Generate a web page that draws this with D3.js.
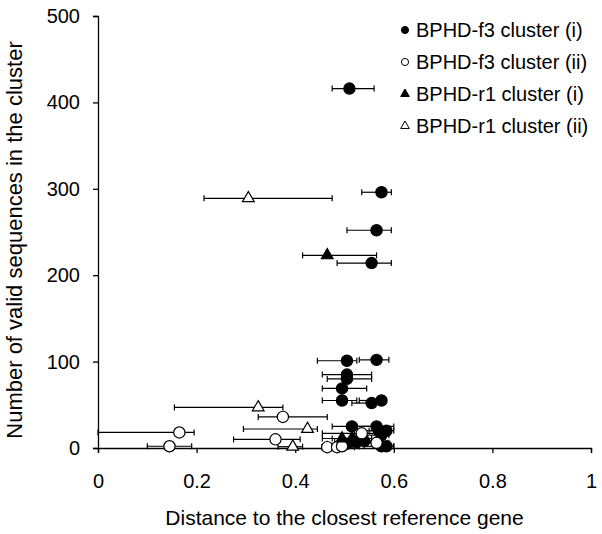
<!DOCTYPE html>
<html>
<head>
<meta charset="utf-8">
<script src="https://cdn.jsdelivr.net/npm/d3@7"></script>
<style>
  body { margin: 0; background: #fff; }
  svg { font-family: "Liberation Sans", Arial, sans-serif; }
</style>
</head>
<body>
<div id="chart"></div>
<script>
// [distance, count, error low, error high]
const f3ClusterI = [
    [0.51, 416, 0.475, 0.56], [0.575, 296, 0.535, 0.595], [0.565, 252, 0.505, 0.595],
    [0.555, 214, 0.485, 0.595], [0.505, 101, 0.445, 0.525], [0.565, 102, 0.53, 0.59],
    [0.505, 85, 0.455, 0.555], [0.505, 80, 0.465, 0.555], [0.495, 69, 0.455, 0.545],
    [0.495, 55, 0.455, 0.525], [0.555, 52, 0.515, 0.575], [0.575, 55, 0.53, 0.58],
    [0.515, 25, 0.475, 0.56], [0.565, 25, 0.525, 0.6], [0.57, 20, 0.53, 0.59],
    [0.585, 20, 0.55, 0.6], [0.575, 15, 0.52, 0.59], [0.525, 7, 0.48, 0.56],
    [0.505, 5, 0.465, 0.54], [0.585, 2, 0.56, 0.6], [0.575, 2, 0.54, 0.6],
    [0.54, 8, 0.5, 0.57]
];
const f3ClusterII = [
    [0.375, 36, 0.325, 0.465], [0.165, 18, 0, 0.195], [0.145, 2, 0.1, 0.19],
    [0.36, 10, 0.275, 0.41], [0.535, 17, 0.455, 0.58], [0.565, 6, 0.52, 0.59],
    [0.465, 1, 0.455, 0.5], [0.485, 1, 0.455, 0.52], [0.495, 2, 0.46, 0.53]
];
const r1ClusterI = [
    [0.465, 223, 0.415, 0.565], [0.495, 11, 0.455, 0.54], [0.515, 11, 0.475, 0.555]
];
const r1ClusterII = [
    [0.305, 289, 0.215, 0.475], [0.325, 47, 0.155, 0.375],
    [0.425, 22, 0.295, 0.445], [0.395, 1.5, 0.365, 0.415]
];
const xTicks = [0, 0.2, 0.4, 0.6, 0.8, 1];
const yTicks = [0, 100, 200, 300, 400, 500];

const series = [
    {name: "BPHD-f3 cluster (i)", data: f3ClusterI, shape: d3.symbolCircle, fill: "#000"},
    {name: "BPHD-f3 cluster (ii)", data: f3ClusterII, shape: d3.symbolCircle, fill: "#fff"},
    {name: "BPHD-r1 cluster (i)", data: r1ClusterI, shape: d3.symbolTriangle, fill: "#000"},
    {name: "BPHD-r1 cluster (ii)", data: r1ClusterII, shape: d3.symbolTriangle, fill: "#fff"}
];

const width = 602, height = 534;
const margin = {top: 16, right: 11, bottom: 86, left: 98};

const svg = d3.select("#chart").append("svg")
    .attr("width", width)
    .attr("height", height);

const x = d3.scaleLinear().domain([0, 1]).range([margin.left, width - margin.right]);
const y = d3.scaleLinear().domain([0, 500]).range([height - margin.bottom, margin.top]);

// axes
const xAxis = svg.append("g")
    .attr("transform", `translate(0,${y(0)})`)
    .call(d3.axisBottom(x).tickValues(xTicks).tickFormat(d3.format("~g")).tickSize(5).tickPadding(21));
const yAxis = svg.append("g")
    .attr("transform", `translate(${x(0)},0)`)
    .call(d3.axisLeft(y).tickValues(yTicks).tickSize(5).tickPadding(13));

[xAxis, yAxis].forEach(g => {
    g.select(".domain").attr("stroke", "#000").attr("stroke-width", 1.3);
    g.selectAll(".tick line").attr("stroke", "#000").attr("stroke-width", 1.3);
    g.selectAll(".tick text").attr("fill", "#000").style("font-size", "20px");
});

// error bars, then markers
const cap = 3;
series.forEach(s => {
    const g = svg.append("g");
    g.selectAll("line.err")
        .data(s.data)
        .enter()
        .append("line")
        .attr("x1", d => x(d[2]))
        .attr("x2", d => x(d[3]))
        .attr("y1", d => y(d[1]))
        .attr("y2", d => y(d[1]))
        .attr("stroke", "#000")
        .attr("stroke-width", 1.2);
    [2, 3].forEach(k => {
        g.selectAll("line.cap" + k)
            .data(s.data)
            .enter()
            .append("line")
            .attr("x1", d => x(d[k]))
            .attr("x2", d => x(d[k]))
            .attr("y1", d => y(d[1]) - cap)
            .attr("y2", d => y(d[1]) + cap)
            .attr("stroke", "#000")
            .attr("stroke-width", 1.2);
    });
});

series.forEach(s => {
    const sym = d3.symbol().type(s.shape).size(s.shape === d3.symbolCircle ? 100 : 60);
    svg.append("g").selectAll("path")
        .data(s.data)
        .enter()
        .append("path")
        .attr("d", sym)
        .attr("transform", d => `translate(${x(d[0])},${y(d[1])})`)
        .attr("fill", s.fill)
        .attr("stroke", "#000")
        .attr("stroke-width", 1.2);
});

// legend
const legend = svg.append("g").attr("transform", "translate(405,30)");
series.forEach((s, i) => {
    const row = legend.append("g").attr("transform", `translate(0,${i * 32})`);
    row.append("path")
        .attr("d", d3.symbol().type(s.shape).size(s.shape === d3.symbolCircle ? 40 : 32))
        .attr("fill", s.fill)
        .attr("stroke", "#000")
        .attr("stroke-width", 1);
    row.append("text")
        .attr("x", 11)
        .attr("dy", "0.35em")
        .style("font-size", "20px")
        .text(s.name);
});

// axis titles
svg.append("text")
    .attr("x", (x(0) + x(1)) / 2)
    .attr("y", 525)
    .attr("text-anchor", "middle")
    .style("font-size", "21px")
    .text("Distance to the closest reference gene");

svg.append("text")
    .attr("transform", `translate(22,${(y(0) + y(500)) / 2 + 8}) rotate(-90)`)
    .attr("text-anchor", "middle")
    .style("font-size", "22px")
    .text("Number of valid sequences in the cluster");
</script>
</body>
</html>
